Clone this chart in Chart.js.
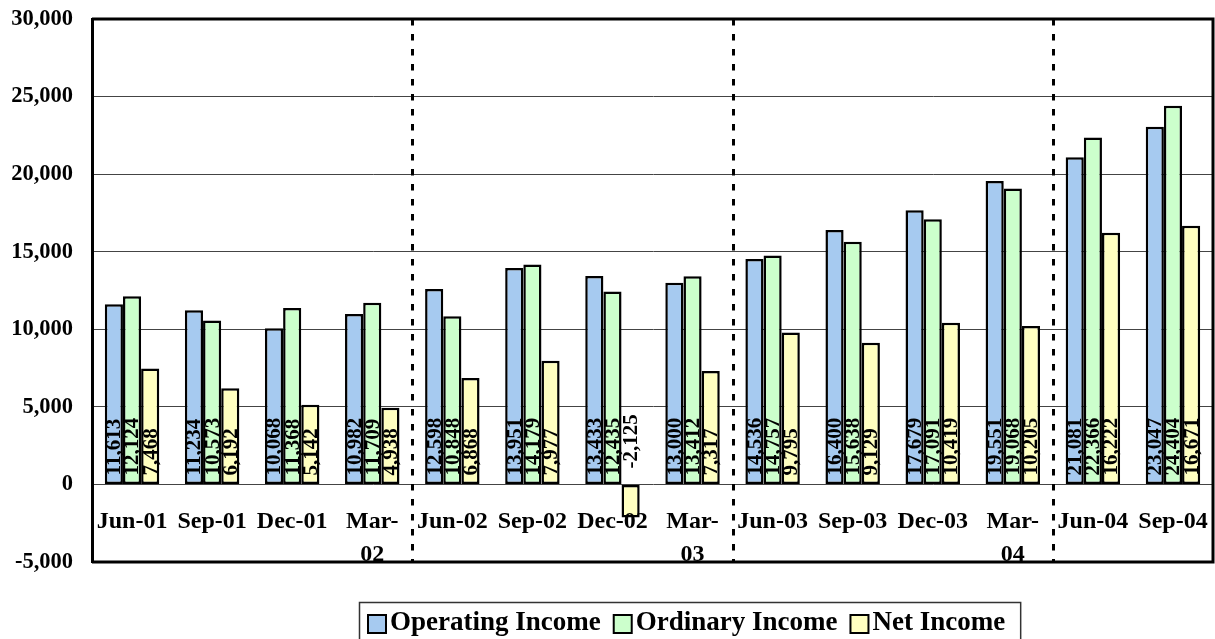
<!DOCTYPE html>
<html>
<head>
<meta charset="utf-8">
<title>Income</title>
<script src="https://cdn.jsdelivr.net/npm/chart.js@4.4.0/dist/chart.umd.min.js"></script>
<style>
    html, body { margin: 0; padding: 0; background: #ffffff; }
    #wrap { width: 1215px; height: 639px; overflow: hidden; }
</style>
</head>
<body>
<div id="wrap"><canvas id="incomeChart" width="1215" height="639"></canvas></div>
<script>
// Chart data (quarterly, yen millions)
const CATEGORIES = ['Jun-01', 'Sep-01', 'Dec-01', ['Mar-', '02'],
                    'Jun-02', 'Sep-02', 'Dec-02', ['Mar-', '03'],
                    'Jun-03', 'Sep-03', 'Dec-03', ['Mar-', '04'],
                    'Jun-04', 'Sep-04'];
const OPERATING_INCOME = [11613, 11234, 10068, 10982, 12598, 13951, 13433, 13000, 14536, 16400, 17679, 19551, 21081, 23047];
const ORDINARY_INCOME = [12124, 10573, 11368, 11709, 10848, 14179, 12435, 13412, 14757, 15638, 17091, 19068, 22366, 24404];
const NET_INCOME = [7468, 6192, 5142, 4938, 6868, 7977, -2125, 7317, 9795, 9129, 10419, 10205, 16222, 16671];
const SERIES_NAMES = ['Operating Income', 'Ordinary Income', 'Net Income'];
const Y_MIN = -5000;
const Y_MAX = 30000;
const Y_STEP = 5000;
// index of the first quarter of each new fiscal year (dotted separators)
const YEAR_STARTS = [4, 8, 12];

const FONT = "'Liberation Serif', 'Times New Roman', serif";
const BLUE = '#a6caf0';
const GREEN = '#ccffcc';
const YELLOW = '#ffffc0';

const fmt = v => v.toLocaleString('en-US');

// Border around the plot area (top, right, bottom)
const plotFrame = {
    id: 'plotFrame',
    afterDraw(chart) {
        const { ctx, chartArea: a } = chart;
        ctx.save();
        ctx.strokeStyle = '#000';
        ctx.lineWidth = 3;
        ctx.beginPath();
        ctx.moveTo(a.left, a.top);
        ctx.lineTo(a.right, a.top);
        ctx.lineTo(a.right, a.bottom);
        ctx.lineTo(a.left, a.bottom);
        ctx.stroke();
        ctx.restore();
    }
};

// Dotted lines between fiscal years
const yearSeparators = {
    id: 'yearSeparators',
    beforeDatasetsDraw(chart) {
        const { ctx, chartArea: a } = chart;
        const xs = chart.scales.x;
        ctx.save();
        ctx.strokeStyle = '#000';
        ctx.lineWidth = 3;
        ctx.setLineDash([6.5, 8.5]);
        YEAR_STARTS.forEach(i => {
            const x = Math.round((xs.getPixelForValue(i - 1) + xs.getPixelForValue(i)) / 2) + 0.5;
            ctx.beginPath();
            ctx.moveTo(x, a.top);
            ctx.lineTo(x, a.bottom);
            ctx.stroke();
        });
        ctx.restore();
    }
};

// Category labels sit inside the plot, just under the zero line
const categoryLabels = {
    id: 'categoryLabels',
    afterDatasetsDraw(chart) {
        const { ctx } = chart;
        const xs = chart.scales.x;
        const zero = chart.scales.y.getPixelForValue(0);
        ctx.save();
        ctx.fillStyle = '#000';
        ctx.font = 'bold 24px ' + FONT;
        ctx.textAlign = 'center';
        ctx.textBaseline = 'middle';
        CATEGORIES.forEach((label, i) => {
            const lines = Array.isArray(label) ? label : [label];
            const x = xs.getPixelForValue(i);
            lines.forEach((line, j) => {
                ctx.fillText(line, x, zero + 37 + j * 33);
            });
        });
        ctx.restore();
    }
};

// Rotated value labels at the base of each bar
const valueLabels = {
    id: 'valueLabels',
    afterDatasetsDraw(chart) {
        const { ctx } = chart;
        const zero = chart.scales.y.getPixelForValue(0);
        ctx.save();
        ctx.fillStyle = '#000';
        ctx.font = 'bold 21px ' + FONT;
        ctx.textAlign = 'left';
        ctx.textBaseline = 'middle';
        chart.data.datasets.forEach((ds, di) => {
            const meta = chart.getDatasetMeta(di);
            meta.data.forEach((bar, i) => {
                const v = ds.data[i];
                const y = v < 0 ? zero - 16 : zero - 9;
                ctx.save();
                ctx.translate(bar.x + 1, y);
                ctx.rotate(-Math.PI / 2);
                ctx.fillText(fmt(v), 0, 0);
                ctx.restore();
            });
        });
        ctx.restore();
    }
};

// Boxed legend under the chart
const legendBox = {
    id: 'legendBox',
    afterDraw(chart) {
        const { ctx } = chart;
        const left = 359, top = 602, boxSize = 18;
        ctx.save();
        ctx.font = 'bold 27px ' + FONT;
        ctx.textBaseline = 'middle';
        ctx.textAlign = 'left';
        let x = left + 9;
        chart.data.datasets.forEach(ds => {
            ctx.fillStyle = ds.backgroundColor;
            ctx.fillRect(x, 615, boxSize, boxSize);
            ctx.strokeStyle = '#000';
            ctx.lineWidth = 2;
            ctx.strokeRect(x, 615, boxSize, boxSize);
            x += boxSize + 4;
            ctx.fillStyle = '#000';
            ctx.fillText(ds.label, x, 623);
            x += ctx.measureText(ds.label).width + 13;
        });
        const right = x - 13 + 15;
        ctx.strokeStyle = '#333';
        ctx.lineWidth = 1.5;
        ctx.strokeRect(left + 0.5, top + 0.5, right - left, 60);
        ctx.restore();
    }
};

function makeDataset(label, data, color) {
    return {
        label: label,
        data: data,
        backgroundColor: color,
        borderColor: '#000',
        borderWidth: 2.5,
        borderSkipped: false,
        categoryPercentage: 0.68,
        barPercentage: 1.0
    };
}

const config = {
    type: 'bar',
    data: {
        labels: CATEGORIES,
        datasets: [
            makeDataset(SERIES_NAMES[0], OPERATING_INCOME, BLUE),
            makeDataset(SERIES_NAMES[1], ORDINARY_INCOME, GREEN),
            makeDataset(SERIES_NAMES[2], NET_INCOME, YELLOW)
        ]
    },
    options: {
        responsive: false,
        animation: false,
        devicePixelRatio: 1,
        layout: {
            padding: { top: 19, right: 2, bottom: 77, left: 0 }
        },
        plugins: {
            legend: { display: false },
            tooltip: { enabled: false }
        },
        scales: {
            x: {
                display: false
            },
            y: {
                min: Y_MIN,
                max: Y_MAX,
                afterFit: scale => { scale.width = 92; },
                ticks: {
                    stepSize: Y_STEP,
                    padding: 0,
                    color: '#000',
                    font: { family: FONT, size: 22.5, weight: 'bold' },
                    callback: v => fmt(v)
                },
                grid: {
                    color: '#444',
                    lineWidth: 1,
                    drawTicks: true,
                    tickLength: 19,
                    tickColor: 'rgba(0,0,0,0)'
                },
                border: {
                    display: true,
                    color: '#000',
                    width: 3
                }
            }
        }
    },
    plugins: [yearSeparators, categoryLabels, valueLabels, plotFrame, legendBox]
};

document.addEventListener('DOMContentLoaded', () => {
    new Chart(document.getElementById('incomeChart'), config);
});
</script>
</body>
</html>
